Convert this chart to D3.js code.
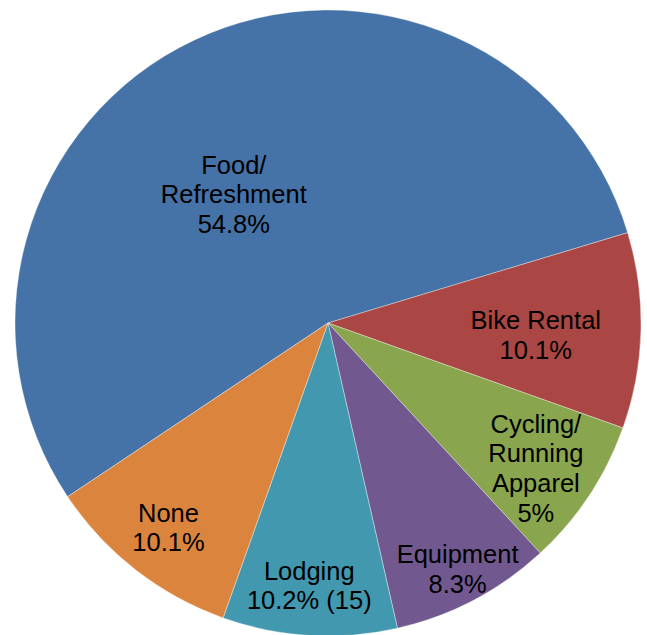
<!DOCTYPE html>
<html>
<head>
<meta charset="utf-8">
<script src="https://cdn.jsdelivr.net/npm/d3@7"></script>
<style>
  body { margin: 0; background: #fff; }
</style>
</head>
<body>
<div id="my_dataviz"></div>
<script>

// categories (line breaks as in the labels)
var categories = ["Food/\nRefreshment", "Bike Rental", "Cycling/\nRunning\nApparel", "Equipment", "Lodging", "None"];
// share of the circle
var values = [54.7, 10.1, 7.7, 8.3, 9.0, 10.2];
// text printed under each category
var pctLabels = ["54.8%", "10.1%", "5%", "8.3%", "10.2% (15)", "10.1%"];
var colors = ["#4572A7", "#AA4643", "#89A54E", "#71588F", "#4198AF", "#DB843D"];

// label placement: fraction of radius, angle shift in degrees
var labelRadius = [0.509, 0.665, 0.81, 0.889, 0.841, 0.829];
var labelShift = [-11, 2, 1.5, 0, 0.7, 0];

var width = 647,
    height = 635,
    cx = 328,
    cy = 323,
    radius = 313,
    fontSize = 25.5,
    lineHeight = 29.7;

var svg = d3.select("#my_dataviz")
    .append("svg")
    .attr("width", width)
    .attr("height", height)
    .append("g")
    .attr("transform", "translate(" + cx + "," + cy + ")");

var data = categories.map(function (c, i) {
    return {name: c, value: values[i], pct: pctLabels[i], i: i};
});

var start = -123.7 * Math.PI / 180;

var pie = d3.pie()
    .sort(null)
    .value(function (d) { return d.value; })
    .startAngle(start)
    .endAngle(start + 2 * Math.PI);

var arcs = pie(data);

var arc = d3.arc()
    .innerRadius(0)
    .outerRadius(radius);

svg.selectAll(".slice")
    .data(arcs)
    .enter()
    .append("path")
    .attr("class", "slice")
    .attr("d", arc)
    .attr("fill", function (d) { return colors[d.data.i]; })
    .attr("stroke", "#ffffff")
    .attr("stroke-opacity", 0.6)
    .attr("stroke-width", 0.6);

// labels
var labels = svg.selectAll(".label")
    .data(arcs)
    .enter()
    .append("text")
    .attr("class", "label")
    .style("font-family", "'Liberation Sans', Arial, sans-serif")
    .style("font-size", fontSize + "px")
    .attr("fill", "#000")
    .attr("text-anchor", "middle")
    .attr("transform", function (d) {
        var i = d.data.i;
        var a = (d.startAngle + d.endAngle) / 2 + labelShift[i] * Math.PI / 180;
        var r = labelRadius[i] * radius;
        return "translate(" + (r * Math.sin(a)) + "," + (-r * Math.cos(a)) + ")";
    });

labels.each(function (d) {
    var lines = d.data.name.split("\n").concat([d.data.pct]);
    var n = lines.length;
    var t = d3.select(this);
    lines.forEach(function (line, k) {
        t.append("tspan")
            .attr("x", 0)
            .attr("y", (k - (n - 1) / 2) * lineHeight + fontSize * 0.35)
            .text(line);
    });
});

</script>
</body>
</html>
